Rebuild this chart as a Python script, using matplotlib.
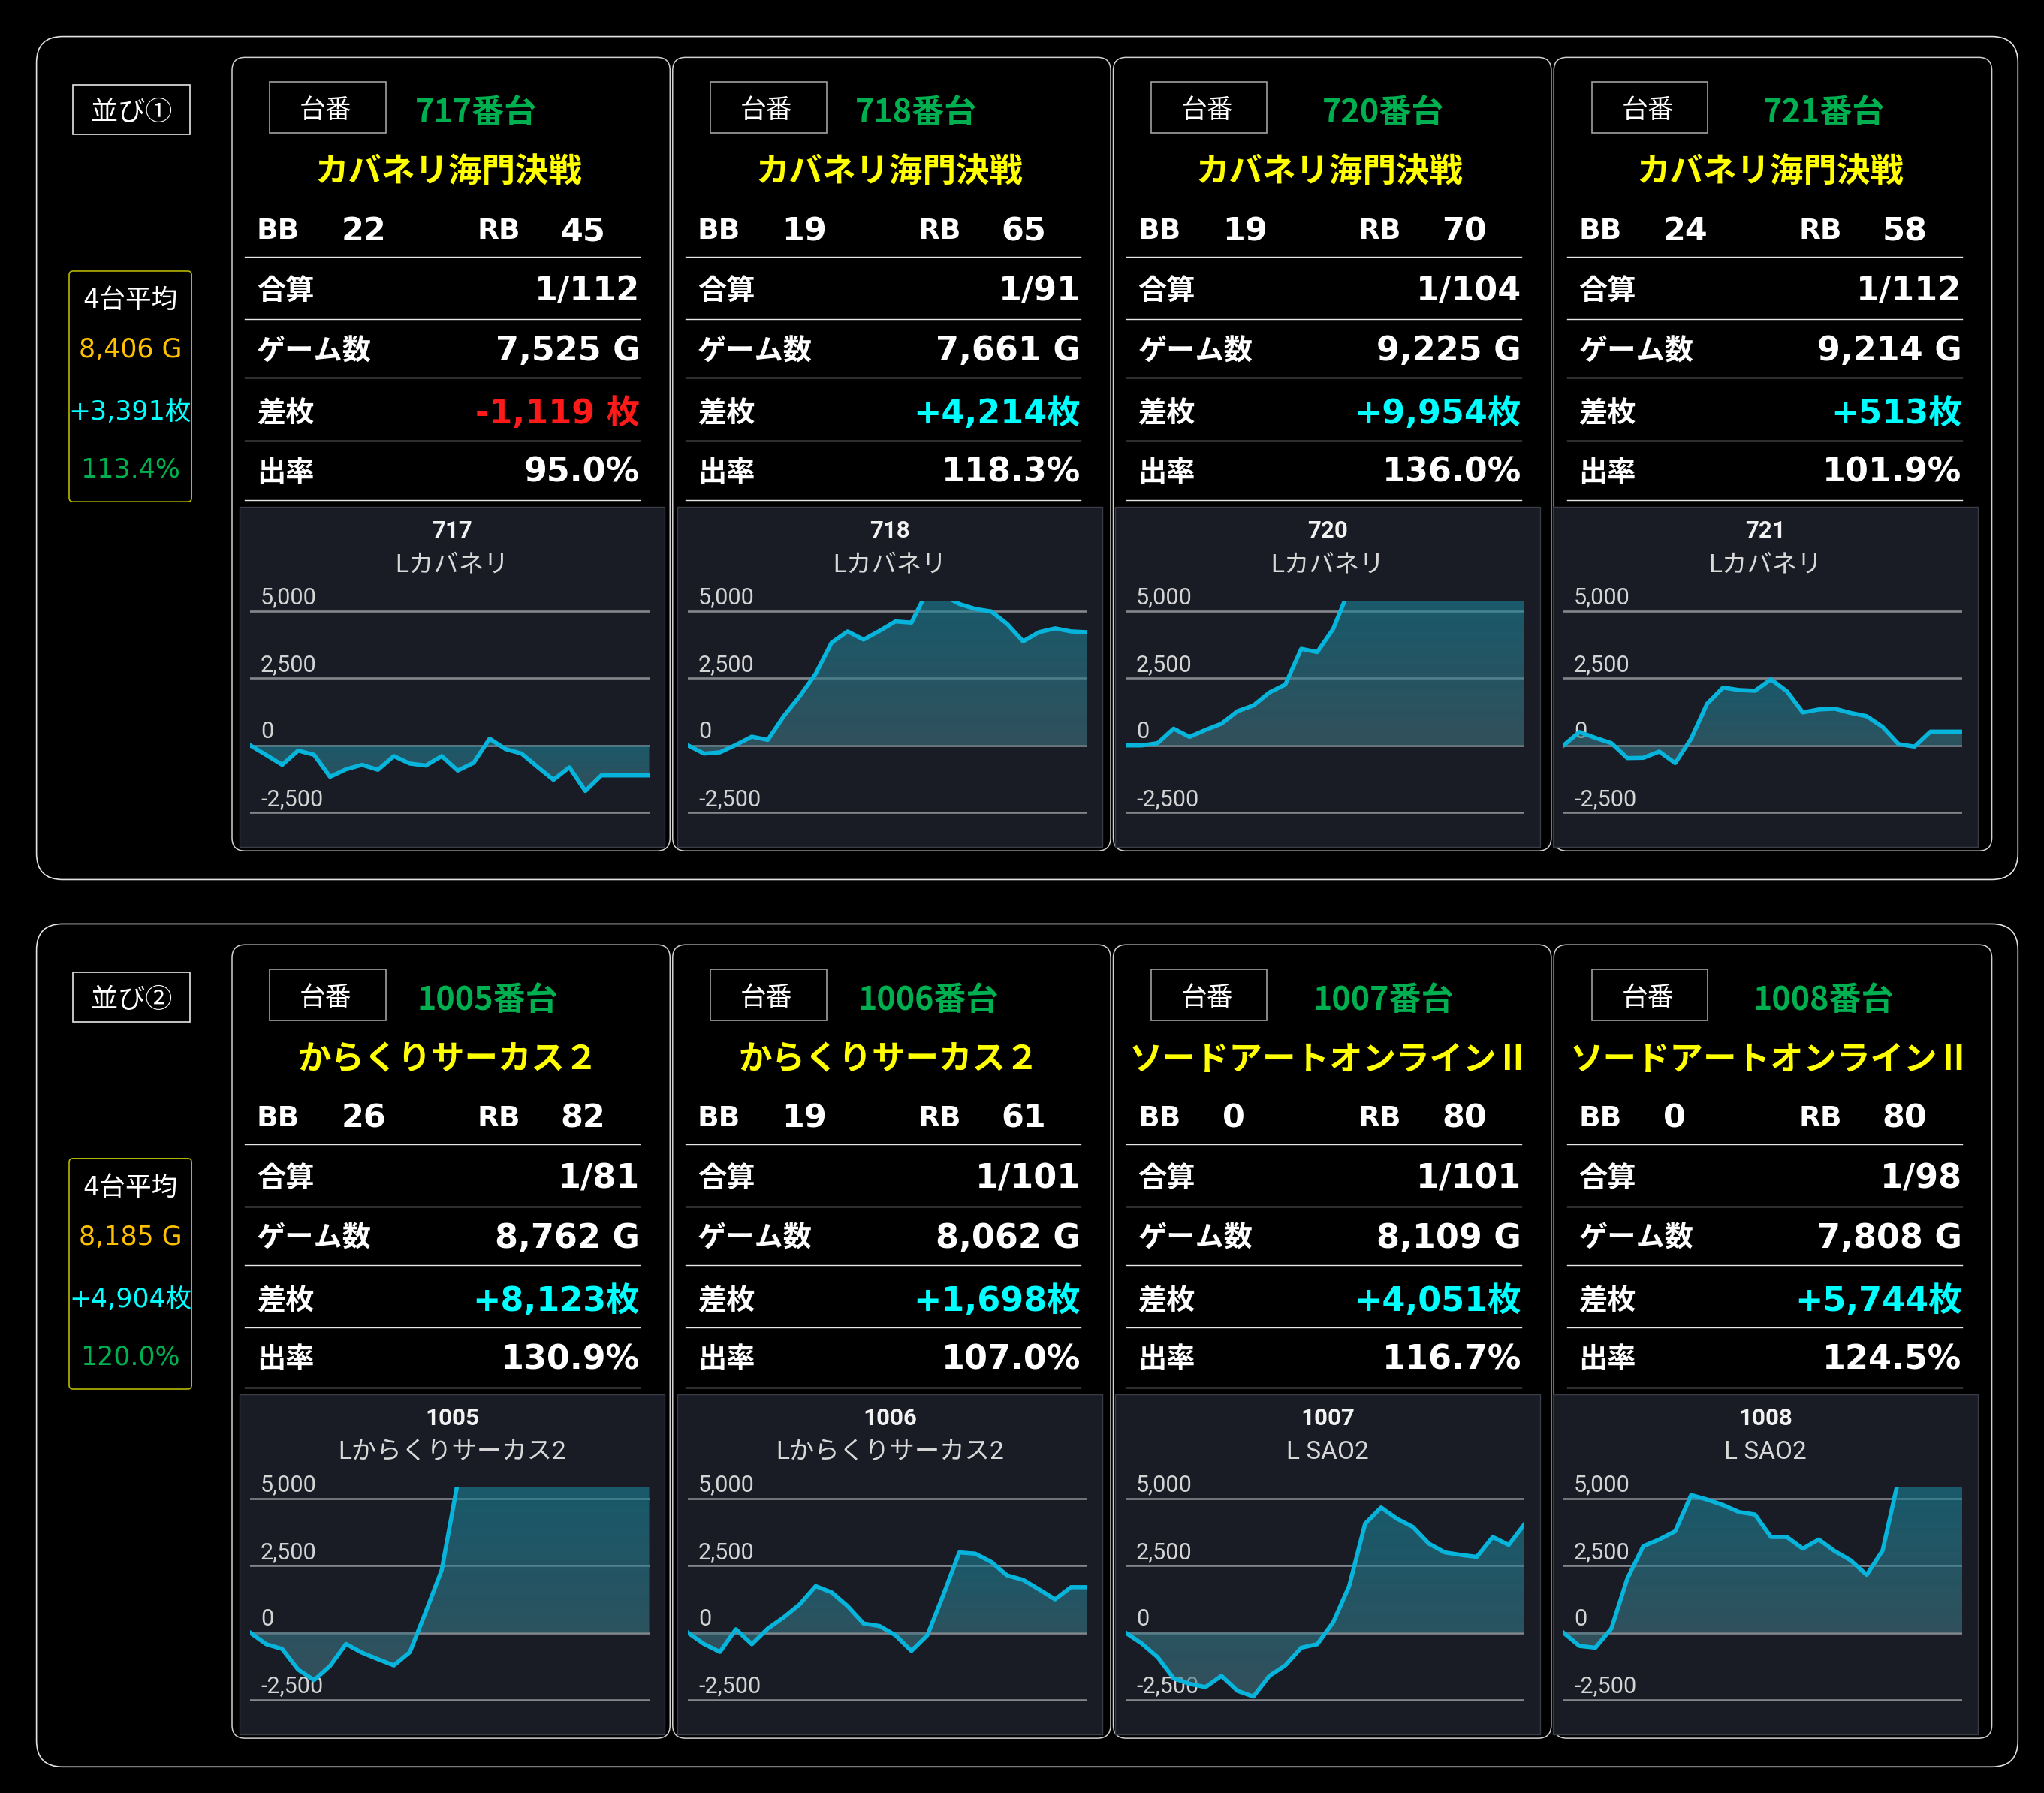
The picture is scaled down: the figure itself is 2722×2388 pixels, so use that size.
import numpy as np
import matplotlib
matplotlib.use('Agg')
import matplotlib.pyplot as plt
from matplotlib.patches import FancyBboxPatch, Rectangle

# ---------------- data ----------------
group_labels = ['並び①', '並び②']
avg_title = '4台平均'
avg_games = ['8,406 G', '8,185 G']
avg_diff = ['+3,391枚', '+4,904枚']
avg_rate = ['113.4%', '120.0%']

g1_numbers = ['717', '718', '720', '721']
g1_titles = ['カバネリ海門決戦', 'カバネリ海門決戦', 'カバネリ海門決戦', 'カバネリ海門決戦']
g1_subtitles = ['Lカバネリ', 'Lカバネリ', 'Lカバネリ', 'Lカバネリ']
g1_bb = ['22', '19', '19', '24']
g1_rb = ['45', '65', '70', '58']
g1_combined = ['1/112', '1/91', '1/104', '1/112']
g1_games = ['7,525 G', '7,661 G', '9,225 G', '9,214 G']
g1_diff = ['-1,119 枚', '+4,214枚', '+9,954枚', '+513枚']
g1_rate = ['95.0%', '118.3%', '136.0%', '101.9%']

g2_numbers = ['1005', '1006', '1007', '1008']
g2_titles = ['からくりサーカス２', 'からくりサーカス２', 'ソードアートオンラインⅡ', 'ソードアートオンラインⅡ']
g2_subtitles = ['Lからくりサーカス2', 'Lからくりサーカス2', 'L SAO2', 'L SAO2']
g2_bb = ['26', '19', '0', '0']
g2_rb = ['82', '61', '80', '80']
g2_combined = ['1/81', '1/101', '1/101', '1/98']
g2_games = ['8,762 G', '8,062 G', '8,109 G', '7,808 G']
g2_diff = ['+8,123枚', '+1,698枚', '+4,051枚', '+5,744枚']
g2_rate = ['130.9%', '107.0%', '116.7%', '124.5%']

row_labels = ['合算', 'ゲーム数', '差枚', '出率']
tick_values = [-2500, 0, 2500, 5000]
tick_labels = ['-2,500', '0', '2,500', '5,000']

s717 = [0, -360, -725, -195, -353, -1170, -892, -725, -910, -400, -678, -752, -400,
        -938, -650, 251, -139, -307, -800, -1282, -818, -1700, -1119, -1119, -1119, -1119]
s718 = [0, -307, -260, 19, 325, 204, 1087, 1830, 2666, 3827, 4245, 3939, 4264, 4617,
        4571, 5750, 5600, 5267, 5082, 4989, 4524, 3874, 4218, 4357, 4245, 4214]
s720 = [0, 0, 84, 622, 316, 576, 808, 1273, 1486, 1970, 2267, 3595, 3474, 4338, 5800,
        6400, 7100, 7600, 8200, 8700, 9100, 9400, 9700, 9800, 9900, 9954]
s721 = [0, 500, 279, 84, -474, -464, -232, -660, 251, 1551, 2155, 2062, 2034, 2462,
        2016, 1226, 1338, 1366, 1208, 1087, 687, 46, -46, 513, 513, 513]
s1005 = [0, -427, -604, -1375, -1765, -1236, -418, -743, -985, -1217, -725, 780, 2341,
         5600, 6200, 6800, 7200, 7500, 7700, 7900, 8000, 8050, 8100, 8100, 8123, 8123]
s1006 = [0, -418, -715, 130, -427, 158, 576, 1059, 1737, 1505, 994, 344, 251, -93,
         -678, -93, 1412, 2991, 2945, 2638, 2137, 1970, 1616, 1245, 1698, 1698]
s1007 = [0, -400, -910, -1700, -1905, -2025, -1607, -2165, -2378, -1607, -1217, -557,
         -427, 390, 1737, 4060, 4664, 4245, 3939, 3317, 2991, 2898, 2824, 3567, 3270, 4051]
s1008 = [0, -492, -557, 158, 2016, 3224, 3474, 3781, 5128, 4961, 4757, 4496, 4403,
         3567, 3567, 3131, 3474, 3038, 2694, 2155, 3066, 5723, 5730, 5735, 5740, 5744]

groups = [
    dict(numbers=g1_numbers, titles=g1_titles, subs=g1_subtitles, bb=g1_bb, rb=g1_rb,
         comb=g1_combined, games=g1_games, diff=g1_diff, rate=g1_rate,
         series=[s717, s718, s720, s721]),
    dict(numbers=g2_numbers, titles=g2_titles, subs=g2_subtitles, bb=g2_bb, rb=g2_rb,
         comb=g2_combined, games=g2_games, diff=g2_diff, rate=g2_rate,
         series=[s1005, s1006, s1007, s1008]),
]

# ---------------- style / layout ----------------
W, H = 1568.0, 1376.0
CJK = ['Noto Sans CJK JP', 'DejaVu Sans']
LAT = ['DejaVu Sans', 'Noto Sans CJK JP']
CHF = ['Roboto', 'Noto Sans CJK JP', 'DejaVu Sans']
GREEN = '#00b050'
YELLOW = '#ffff00'
CYAN = '#00ffff'
RED = '#ff1a1a'
ORANGE = '#ffc000'
LINE_C = '#07b5dc'
PANEL_BG = '#191c24'
YMIN, YMAX = -3000, 5400
num_offsets = [[187, 187, 207, 207], [196, 196, 207, 207]]
DY = 2.5  # vertical text nudge

fig = plt.figure(figsize=(27.22, 23.88), dpi=100, facecolor='black')
bg = fig.add_axes([0, 0, 1, 1])
bg.set_xlim(0, W)
bg.set_ylim(H, 0)
bg.axis('off')


def frect(x0, y0, x1, y1):
    return [x0 / W, 1 - y1 / H, (x1 - x0) / W, (y1 - y0) / H]


def txt(x, y, s, size, color='white', weight='normal', family=CJK, ha='center', va='center'):
    bg.text(x, y + DY, s, fontsize=size, color=color, fontweight=weight, family=family,
            ha=ha, va=va)


top_rgb = np.array([0x19, 0x83, 0x9a]) / 255.0
bot_rgb = np.array([0x43, 0x73, 0x81]) / 255.0

for gi, g in enumerate(groups):
    gy = 28 + 681 * gi
    bg.add_patch(FancyBboxPatch((28, gy), 1520, 647,
                                boxstyle='round,pad=0,rounding_size=20',
                                fc='none', ec='#e2e2e2', lw=1.2))
    # group label
    bg.add_patch(Rectangle((56, gy + 37), 90, 38, fc='none', ec='#e6e6e6', lw=1.2))
    txt(101, gy + 56, group_labels[gi], 26, family=CJK)
    # average box
    bg.add_patch(FancyBboxPatch((53, gy + 180), 94, 177,
                                boxstyle='round,pad=0,rounding_size=3',
                                fc='none', ec='#b5b500', lw=1.2))
    txt(100, gy + 200, avg_title, 25, family=LAT)
    txt(100, gy + 238, avg_games[gi], 25, color=ORANGE, family=LAT)
    txt(100, gy + 286, avg_diff[gi], 25, color=CYAN, family=LAT)
    txt(100, gy + 330, avg_rate[gi], 25, color=GREEN, family=LAT)

    for ci in range(4):
        cx = 178 + 338 * ci
        cy = gy + 16
        bg.add_patch(FancyBboxPatch((cx, cy), 336, 609,
                                    boxstyle='round,pad=0,rounding_size=10',
                                    fc='none', ec='#d0d0d0', lw=1.1))
        # 台番 box
        bg.add_patch(Rectangle((cx + 29, cy + 19), 89, 39, fc='none', ec='#a0a0a0', lw=1.2))
        txt(cx + 72, cy + 38.5, '台番', 25, family=CJK)
        txt(cx + num_offsets[gi][ci], cy + 40, g['numbers'][ci] + '番台', 31,
            color=GREEN, weight='bold', family=CJK)
        # title
        txt(cx + 166, cy + 86, g['titles'][ci], 32, color=YELLOW, weight='bold', family=CJK)
        # BB / RB
        txt(cx + 19, cy + 131, 'BB', 27, weight='bold', family=LAT, ha='left')
        txt(cx + 84, cy + 131, g['bb'][ci], 31, weight='bold', family=LAT, ha='left')
        txt(cx + 188, cy + 131, 'RB', 27, weight='bold', family=LAT, ha='left')
        txt(cx + 252, cy + 131, g['rb'][ci], 31, weight='bold', family=LAT, ha='left')
        for ly in [153, 201, 246, 294, 340]:
            bg.plot([cx + 10, cx + 313], [cy + ly, cy + ly], color='#e8e8e8', lw=1.0)
        vals = [g['comb'][ci], g['games'][ci], g['diff'][ci], g['rate'][ci]]
        for ri, ry in enumerate([177, 223, 271, 316]):
            txt(cx + 19, cy + ry, row_labels[ri], 27.5, weight='bold', family=CJK, ha='left')
            col = 'white'
            if ri == 2:
                col = RED if vals[ri].startswith('-') else CYAN
            txt(cx + 313, cy + ry, vals[ri], 32, color=col, weight='bold',
                family=LAT, ha='right')

        # chart panel
        px = 184 + 335.8 * ci
        bg.add_patch(Rectangle((px, cy + 345), 326, 261, fc=PANEL_BG, ec='#3a3d46', lw=1.0))
        txt(px + 163, cy + 361, g['numbers'][ci], 22.5, color='#f2f2f2', weight='bold', family=CHF)
        txt(px + 163, cy + 387, g['subs'][ci], 24, color='#d8d8d8', family=CHF)

        plot_x0 = px + 8
        plot_x1 = plot_x0 + 306
        zero_y = cy + 528
        k = 103.0 / 5000.0
        ax = fig.add_axes(frect(plot_x0, zero_y - YMAX * k, plot_x1, zero_y - YMIN * k))
        ax.patch.set_alpha(0)
        ax.axis('off')
        s = np.array(g['series'][ci], dtype=float)
        x = np.arange(len(s))
        for tv, tl in zip(tick_values, tick_labels):
            ax.axhline(tv, color='#84878c', lw=1.9, zorder=1)
            ax.text(0.026, tv + 500, tl, transform=ax.get_yaxis_transform(),
                    fontsize=22, color='#d4d4d4', family=CHF, ha='left', va='center',
                    zorder=1)
        poly = ax.fill_between(x, s, 0, color='none', lw=0)
        lo = min(s.min(), 0)
        hi = min(s.max(), YMAX)
        t = np.linspace(0, 1, 128)
        cols = bot_rgb[None, :] * (1 - t[:, None]) + top_rgb[None, :] * t[:, None]
        im = ax.imshow(cols[:, None, :], extent=[0, len(s) - 1, lo, hi], origin='lower',
                       aspect='auto', alpha=0.6, zorder=2, interpolation='bilinear')
        im.set_clip_path(poly.get_paths()[0], transform=ax.transData)
        ax.plot(x, s, color=LINE_C, lw=4.0, zorder=4)
        ax.set_xlim(0, len(s) - 1)
        ax.set_ylim(YMIN, YMAX)

fig.savefig('out.png', dpi=100, facecolor='black')
